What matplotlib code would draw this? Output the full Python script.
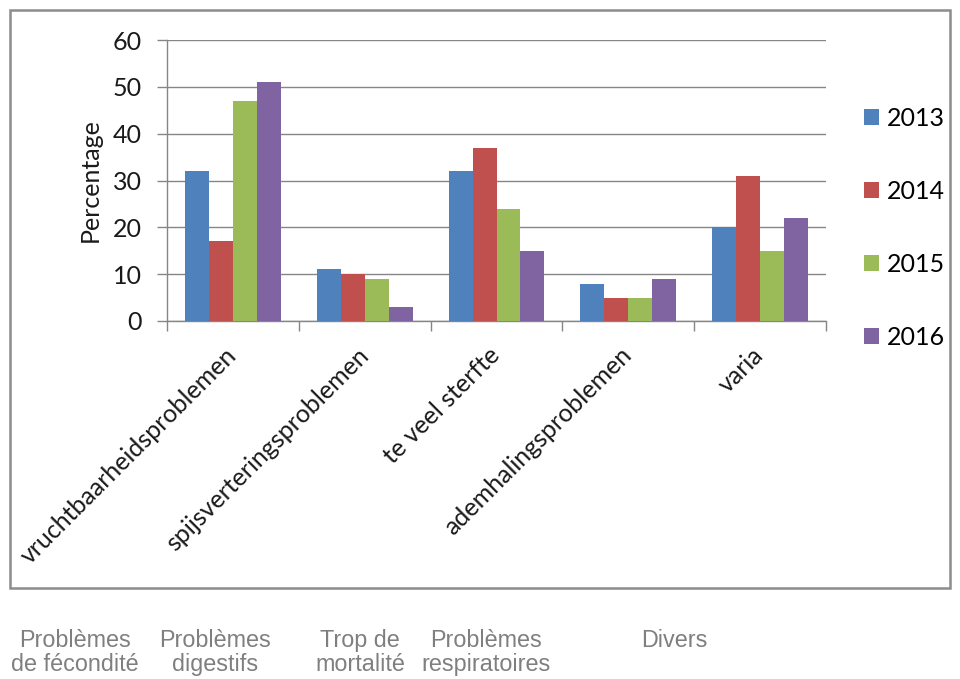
import matplotlib
matplotlib.use("Agg")
import matplotlib.pyplot as plt
import numpy as np
from matplotlib.patches import Rectangle
from matplotlib import font_manager

# data
categories = ["vruchtbaarheidsproblemen", "spijsverteringsproblemen",
              "te veel sterfte", "ademhalingsproblemen", "varia"]
years = ["2013", "2014", "2015", "2016"]
values_2013 = [32, 11, 32, 8, 20]
values_2014 = [17, 10, 37, 5, 31]
values_2015 = [47, 9, 24, 5, 15]
values_2016 = [51, 3, 15, 9, 22]
french_labels = ["Problèmes\nde fécondité", "Problèmes\ndigestifs",
                 "Trop de\nmortalité", "Problèmes\nrespiratoires", "Divers"]

colors = ["#4F81BD", "#C0504D", "#9BBB59", "#8064A2"]
grid_color = "#868686"
chart_font = "Lato"
fs = 18
names = {f.name for f in font_manager.fontManager.ttflist}
fr_font = "Liberation Sans" if "Liberation Sans" in names else "DejaVu Sans"

W, H = 960, 679
fig = plt.figure(figsize=(W / 100, H / 100), dpi=100)

# outer chart border
fig.patches.append(Rectangle((9.5 / W, 1 - 588 / H), (950 - 9.5) / W, (588 - 10) / H,
                             transform=fig.transFigure, fill=False,
                             edgecolor="#8c8c8c", linewidth=1.8))

ax = fig.add_axes([167 / W, 1 - 321 / H, (826 - 167) / W, (321 - 40) / H])

series = [values_2013, values_2014, values_2015, values_2016]
x = np.arange(len(categories))
bw = 0.1815
for i, (vals, c, yr) in enumerate(zip(series, colors, years)):
    ax.bar(x + (i - 1.5) * bw, vals, width=bw, color=c, label=yr, zorder=3)

ax.set_xlim(-0.5, len(categories) - 0.5)
ax.set_ylim(0, 60)
ax.set_yticks(range(0, 61, 10))
ax.yaxis.grid(True, color=grid_color, linewidth=1.0, zorder=0)
for s in ["top", "right"]:
    ax.spines[s].set_visible(False)
for s in ["left", "bottom"]:
    ax.spines[s].set_color(grid_color)
    ax.spines[s].set_linewidth(1.0)

ax.tick_params(axis="y", length=7, width=1.0, color=grid_color, pad=11,
               labelsize=fs, labelcolor="#1a1a1a")
ax.set_xticks(x)
ax.set_xticks(np.arange(-0.5, len(categories)), minor=True)
ax.tick_params(axis="x", which="minor", length=7, width=1.0, color=grid_color)
ax.tick_params(axis="x", which="major", length=0, pad=22)
ax.set_xticklabels(categories, rotation=45, ha="right", va="center",
                   rotation_mode="anchor", fontsize=fs, color="#1a1a1a")
for lbl in ax.get_yticklabels() + ax.get_xticklabels():
    lbl.set_fontfamily(chart_font)
ax.set_ylabel("Percentage", fontsize=fs, family=chart_font, color="#1a1a1a",
              labelpad=8)

fig.legend(loc="center left", bbox_to_anchor=(864 / W, 1 - 228 / H),
           frameon=False, prop={"family": chart_font, "size": fs},
           handlelength=0.6, handleheight=0.6, handletextpad=0.3,
           labelspacing=2.0, borderpad=0, borderaxespad=0)

# French translations under the chart
fr_x = [75, 215, 360, 486, 674]
for fx, txt in zip(fr_x, french_labels):
    fig.text(fx / W, 1 - 629 / H, txt, ha="center", va="top", fontsize=16.8,
             family=fr_font, color="#7f7f7f", linespacing=1.05)

fig.savefig("out.png", dpi=100)
